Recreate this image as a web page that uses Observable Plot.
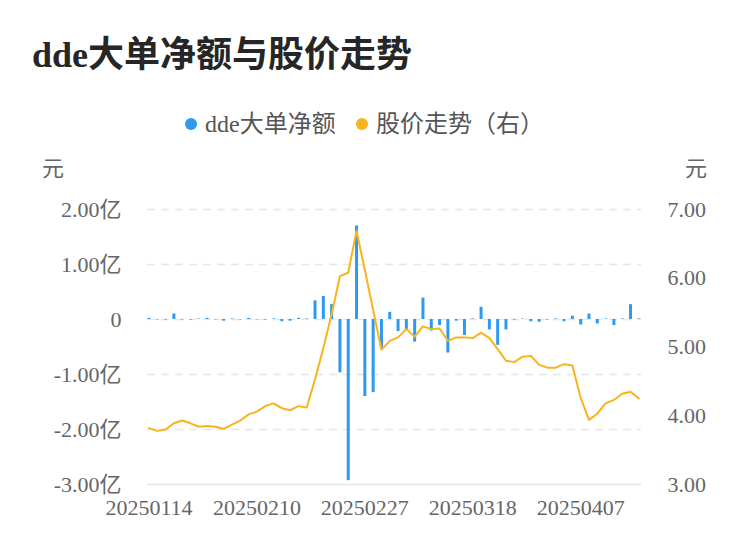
<!DOCTYPE html>
<html><head><meta charset="utf-8">
<script src="https://cdn.jsdelivr.net/npm/d3@7"></script>
<script src="https://cdn.jsdelivr.net/npm/@observablehq/plot@0.6"></script>
<style>
body{margin:0;width:750px;height:558px;position:relative;background:#fff;font-family:"Liberation Serif","Noto Sans CJK SC",serif;overflow:hidden}
#title{position:absolute;left:32px;top:34px;font-size:36px;font-weight:bold;color:#262626;line-height:1.2;white-space:nowrap}
.lg{position:absolute;top:107px;font-size:24px;color:#555;line-height:34px;white-space:nowrap}
.dot{position:absolute;width:12px;height:12px;border-radius:50%;top:118px}
.unit{position:absolute;top:153px;font-size:22px;color:#666;line-height:32px}
#chart{position:absolute;left:0;top:150px}
</style></head>
<body>
<div id="title">dde大单净额与股价走势</div>
<div class="dot" style="left:185px;background:#2d9af0"></div>
<div class="lg" style="left:205px">dde大单净额</div>
<div class="dot" style="left:356px;background:#f9b31b"></div>
<div class="lg" style="left:376px">股价走势（右）</div>
<div class="unit" style="left:42px">元</div>
<div class="unit" style="left:685px">元</div>
<div id="chart"></div>
<script>
const dates = ["20250114","20250115","20250116","20250117","20250120","20250121","20250122","20250123","20250124","20250127",
"20250205","20250206","20250207","20250210","20250211","20250212","20250213","20250214","20250217","20250218",
"20250219","20250220","20250221","20250224","20250225","20250226","20250227","20250228","20250303","20250304",
"20250305","20250306","20250307","20250310","20250311","20250312","20250313","20250314","20250317","20250318",
"20250319","20250320","20250321","20250324","20250325","20250326","20250327","20250328","20250331","20250401",
"20250402","20250403","20250407","20250408","20250409","20250410","20250411","20250414","20250415","20250416"];
const ddeValues = [0.02,-0.01,-0.01,0.10,-0.01,-0.01,0.01,0.02,-0.01,-0.03,
0.01,-0.01,0.02,-0.01,-0.01,0.01,-0.04,-0.03,0.02,0.01,
0.34,0.42,0.27,-0.97,-2.93,1.70,-1.40,-1.33,-0.53,0.13,
-0.22,-0.19,-0.41,0.39,-0.21,-0.11,-0.61,-0.03,-0.29,0.01,
0.22,-0.19,-0.47,-0.19,-0.01,0.01,-0.04,-0.05,-0.01,0.01,
-0.04,0.06,-0.10,0.10,-0.08,0.01,-0.11,0.01,0.27,0.01];
const prices = [3.82,3.78,3.80,3.89,3.93,3.89,3.84,3.85,3.84,3.81,
3.87,3.93,4.02,4.06,4.14,4.18,4.11,4.08,4.14,4.12,
4.53,4.98,5.48,6.03,6.08,6.69,6.12,5.54,4.96,5.09,
5.14,5.26,5.15,5.30,5.26,5.27,5.09,5.14,5.14,5.13,
5.21,5.13,4.97,4.80,4.78,4.86,4.87,4.74,4.70,4.70,
4.75,4.73,4.26,3.94,4.03,4.18,4.23,4.32,4.35,4.25];
const xTickLabels = ["20250114","20250210","20250227","20250318","20250407"];
const leftTicks = [-3,-2,-1,0,1,2];
const rightTicks = [3,4,5,6,7];

// map right-axis price onto left-axis units: 7 -> 2, 3 -> -3
const toLeft = p => (p - 7) * 1.25 + 2;
const fromLeft = v => (v - 2) / 1.25 + 7;

const data = dates.map((d, i) => ({d, v: ddeValues[i], p: toLeft(prices[i])}));
const font = '"Liberation Serif","Noto Sans CJK SC",serif';

const chart = Plot.plot({
  width: 750, height: 408,
  marginLeft: 147, marginRight: 109, marginTop: 59, marginBottom: 74,
  x: {type: "point", domain: dates, range: [148.5, 638.3], padding: 0, round: false, axis: null, label: null},
  y: {domain: [-3, 2], axis: null, label: null},
  style: {fontFamily: font, fontSize: "22px", color: "#666", background: "transparent"},
  marks: [
    Plot.ruleY([-2, -1, 0, 1, 2], {stroke: "#e6e6e6", strokeWidth: 1.5, strokeDasharray: "8,6"}),
    Plot.ruleY([-3], {stroke: "#e6e6e6", strokeWidth: 1.5}),
    Plot.ruleX(data, {x: "d", y1: 0, y2: "v", stroke: "#2d9af0", strokeWidth: 3}),
    Plot.line(data, {x: "d", y: "p", stroke: "#f9b31b", strokeWidth: 2}),
    Plot.axisY(leftTicks, {anchor: "left", tickSize: 0, tickPadding: 26, fontSize: 22, label: null,
      tickFormat: v => v === 0 ? "0" : v.toFixed(2) + "亿"}),
    Plot.axisY(rightTicks.map(toLeft), {anchor: "right", tickSize: 0, tickPadding: 26, fontSize: 22, label: null,
      tickFormat: v => fromLeft(v).toFixed(2)}),
    Plot.axisX(xTickLabels, {anchor: "bottom", tickSize: 0, tickPadding: 15, fontSize: 22, label: null})
  ]
});
document.getElementById("chart").appendChild(chart);
</script>
</body></html>
